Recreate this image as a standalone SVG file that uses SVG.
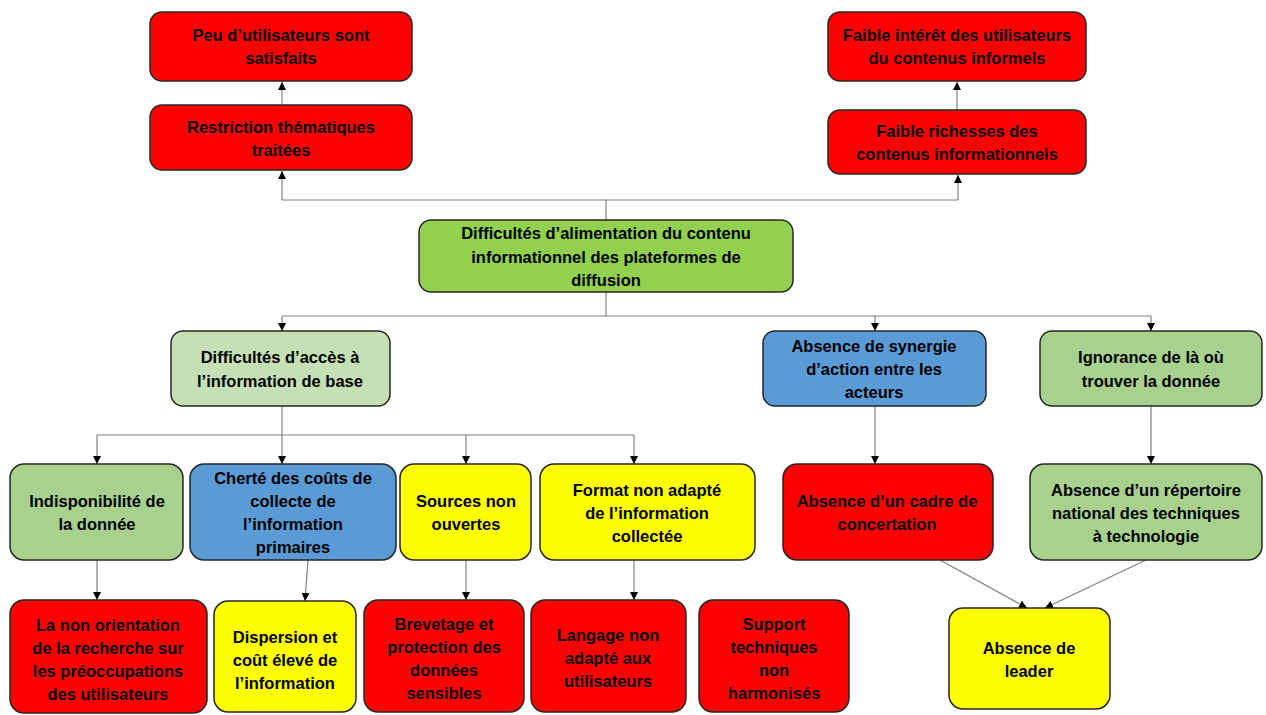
<svg xmlns="http://www.w3.org/2000/svg" width="1266" height="715" viewBox="0 0 1266 715">
<style>
.b{stroke:#262626;stroke-width:1.5}
.r{fill:#FF0000}.g{fill:#92D050}.lg{fill:#C5E0B4}.mg{fill:#A9D18E}.bl{fill:#5B9BD5}.y{fill:#FFFF00}
text{font-family:"Liberation Sans",Arial,sans-serif;font-weight:bold;font-size:16.5px;fill:#000;text-anchor:middle;dominant-baseline:central}
.c line,.c polyline{stroke:#808080;stroke-width:1.2;fill:none}
.a{marker-end:url(#ar)}
</style>
<defs>
<marker id="ar" viewBox="0 0 10 10" refX="10" refY="5" markerWidth="8" markerHeight="8" markerUnits="userSpaceOnUse" orient="auto">
<path d="M0,0 L10,5 L0,10 z" fill="#000"/>
</marker>
</defs>
<g class="c">
<line class="a" x1="282" y1="105" x2="282" y2="82"/>
<line class="a" x1="957" y1="110" x2="957" y2="82"/>
<polyline points="606,220 606,200 282,200"/>
<line class="a" x1="282" y1="200" x2="282" y2="171"/>
<line x1="606" y1="200" x2="958" y2="200"/>
<line class="a" x1="958" y1="200" x2="958" y2="175"/>
<line x1="606" y1="292" x2="606" y2="316"/>
<line x1="282" y1="316" x2="1151" y2="316"/>
<line class="a" x1="282" y1="316" x2="282" y2="331"/>
<line class="a" x1="875" y1="316" x2="875" y2="331"/>
<line class="a" x1="1151" y1="316" x2="1151" y2="331"/>
<line x1="282" y1="406" x2="282" y2="435"/>
<line x1="97" y1="435" x2="634" y2="435"/>
<line class="a" x1="97" y1="435" x2="97" y2="464"/>
<line class="a" x1="282" y1="435" x2="282" y2="464"/>
<line class="a" x1="466" y1="435" x2="466" y2="464"/>
<line class="a" x1="634" y1="435" x2="634" y2="464"/>
<line class="a" x1="875" y1="406" x2="875" y2="464"/>
<line class="a" x1="1151" y1="406" x2="1151" y2="464"/>
<line class="a" x1="97" y1="560" x2="97" y2="600"/>
<line class="a" x1="308" y1="560" x2="305" y2="601"/>
<line class="a" x1="466" y1="560" x2="466" y2="600"/>
<line class="a" x1="634" y1="560" x2="634" y2="600"/>
<line class="a" x1="940" y1="560" x2="1027" y2="608"/>
<line class="a" x1="1146" y1="560" x2="1045" y2="608"/>
</g>
<g id="n1"><rect class="b r" x="150" y="12" width="262" height="69" rx="12"/><text x="281" y="35">Peu d’utilisateurs sont</text><text x="281" y="58">satisfaits</text></g>
<g id="n2"><rect class="b r" x="150" y="105" width="262" height="65" rx="12"/><text x="281" y="127">Restriction thématiques</text><text x="281" y="150">traitées</text></g>
<g id="n3"><rect class="b r" x="828" y="12" width="258" height="69" rx="12"/><text x="957" y="35">Faible intérêt des utilisateurs</text><text x="957" y="58">du contenus informels</text></g>
<g id="n4"><rect class="b r" x="828" y="110" width="258" height="64" rx="12"/><text x="957" y="131">Faible richesses des</text><text x="957" y="154">contenus informationnels</text></g>
<g id="n5"><rect class="b g" x="419" y="220" width="374" height="72" rx="12"/><text x="606" y="233">Difficultés d’alimentation du contenu</text><text x="606" y="257">informationnel des plateformes de</text><text x="606" y="280">diffusion</text></g>
<g id="n6"><rect class="b lg" x="171" y="331" width="219" height="75" rx="12"/><text x="280" y="357">Difficultés d’accès à</text><text x="280" y="381">l’information de base</text></g>
<g id="n7"><rect class="b bl" x="763" y="331" width="223" height="75" rx="12"/><text x="874" y="346">Absence de synergie</text><text x="874" y="369">d’action entre les</text><text x="874" y="392">acteurs</text></g>
<g id="n8"><rect class="b mg" x="1040" y="331" width="222" height="75" rx="12"/><text x="1151" y="357">Ignorance de là où</text><text x="1151" y="381">trouver la donnée</text></g>
<g id="n9"><rect class="b mg" x="10" y="464" width="173" height="96" rx="14"/><text x="97" y="501">Indisponibilité de</text><text x="97" y="524">la donnée</text></g>
<g id="n10"><rect class="b bl" x="190" y="464" width="206" height="96" rx="14"/><text x="293" y="478">Cherté des coûts de</text><text x="293" y="501">collecte de</text><text x="293" y="524">l’information</text><text x="293" y="547">primaires</text></g>
<g id="n11"><rect class="b y" x="400" y="464" width="131" height="96" rx="14"/><text x="466" y="501">Sources non</text><text x="466" y="524">ouvertes</text></g>
<g id="n12"><rect class="b y" x="540" y="464" width="215" height="96" rx="14"/><text x="647" y="490">Format non adapté</text><text x="647" y="513">de l’information</text><text x="647" y="536">collectée</text></g>
<g id="n13"><rect class="b r" x="783" y="464" width="210" height="96" rx="14"/><text x="887" y="501">Absence d’un cadre de</text><text x="887" y="524">concertation</text></g>
<g id="n14"><rect class="b mg" x="1030" y="464" width="232" height="96" rx="14"/><text x="1146" y="490">Absence d’un répertoire</text><text x="1146" y="513">national des techniques</text><text x="1146" y="536">à technologie</text></g>
<g id="n15"><rect class="b r" x="10" y="600" width="197" height="113" rx="14"/><text x="108" y="625">La non orientation</text><text x="108" y="648">de la recherche sur</text><text x="108" y="671">les préoccupations</text><text x="108" y="694">des utilisateurs</text></g>
<g id="n16"><rect class="b y" x="214" y="601" width="142" height="111" rx="14"/><text x="285" y="637">Dispersion et</text><text x="285" y="660">coût élevé de</text><text x="285" y="683">l’information</text></g>
<g id="n17"><rect class="b r" x="364" y="600" width="160" height="112" rx="14"/><text x="444" y="624">Brevetage et</text><text x="444" y="647">protection des</text><text x="444" y="670">données</text><text x="444" y="693">sensibles</text></g>
<g id="n18"><rect class="b r" x="531" y="600" width="155" height="112" rx="14"/><text x="608" y="635">Langage non</text><text x="608" y="658">adapté aux</text><text x="608" y="681">utilisateurs</text></g>
<g id="n19"><rect class="b r" x="699" y="600" width="150" height="112" rx="14"/><text x="774" y="624">Support</text><text x="774" y="647">techniques</text><text x="774" y="670">non</text><text x="774" y="693">harmonisés</text></g>
<g id="n20"><rect class="b y" x="949" y="608" width="161" height="101" rx="14"/><text x="1029" y="648">Absence de</text><text x="1029" y="671">leader</text></g>
</svg>
